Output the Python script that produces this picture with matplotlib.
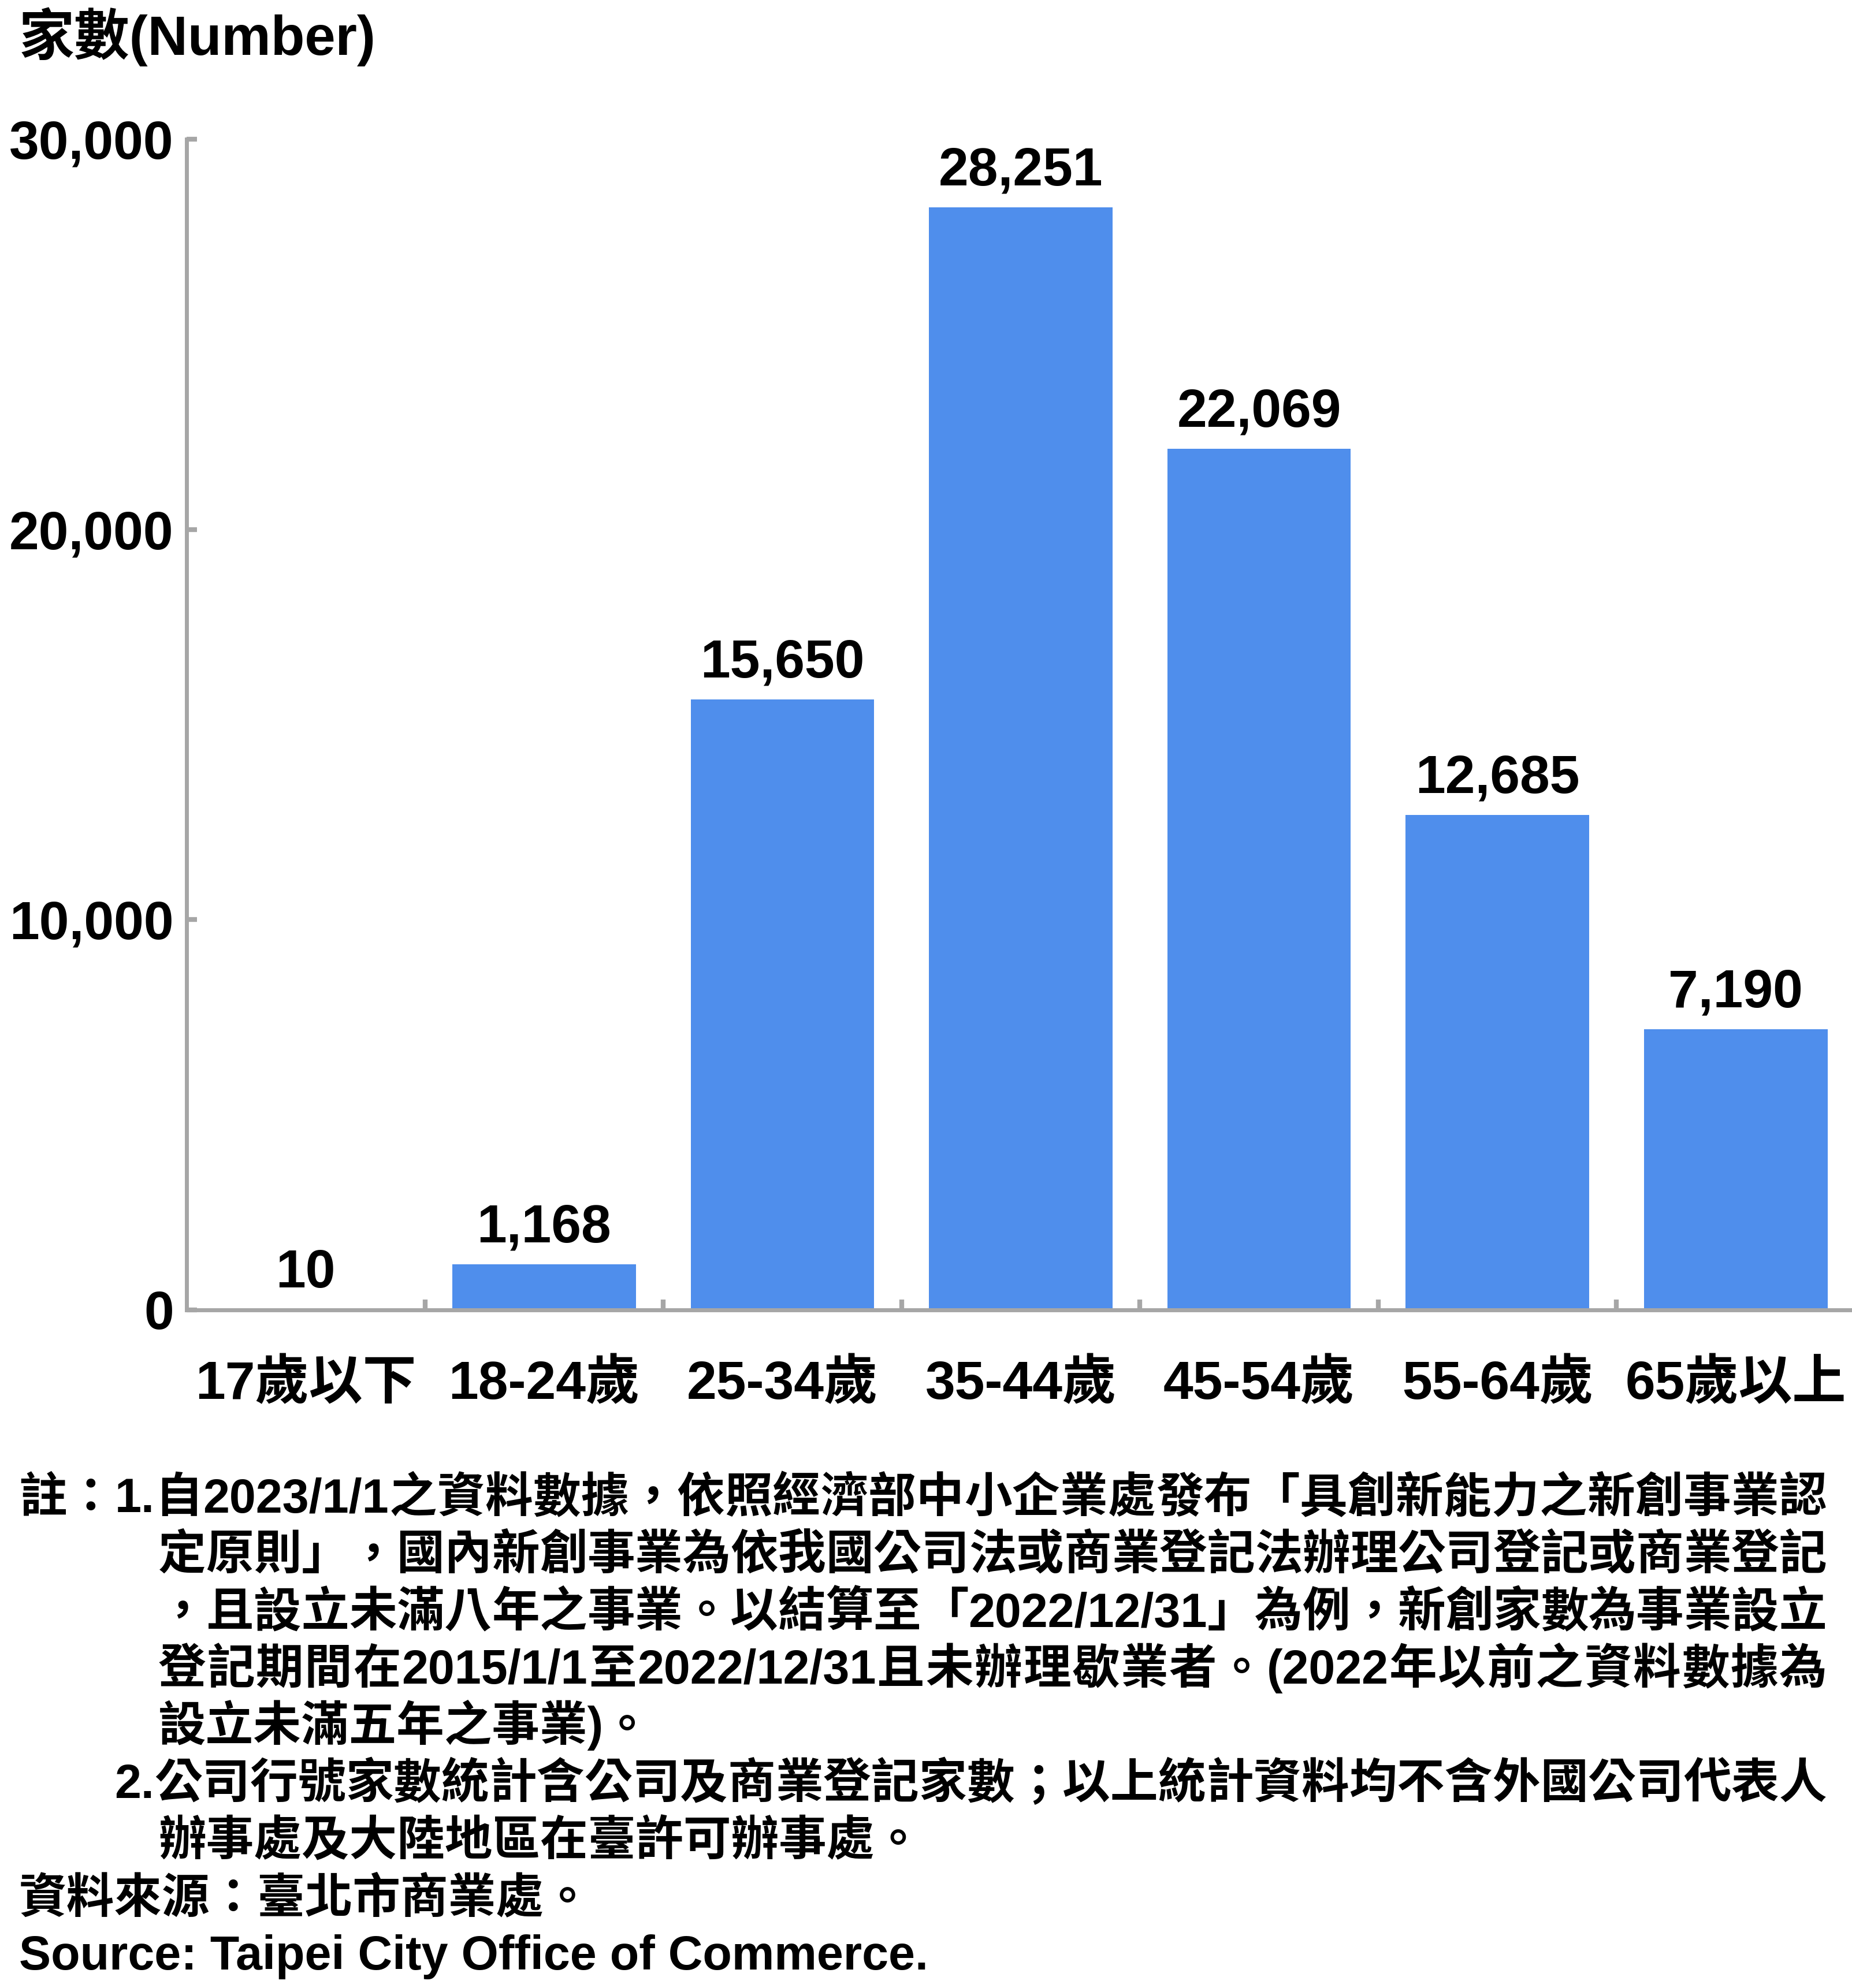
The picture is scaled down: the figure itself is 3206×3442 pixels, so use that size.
import re
import matplotlib
matplotlib.use("Agg")
import matplotlib.pyplot as plt
from matplotlib.ticker import FixedLocator

plt.rcParams['font.family'] = ['Liberation Sans', 'Noto Sans CJK TC']
plt.rcParams['font.weight'] = 'bold'

categories = ['17歲以下', '18-24歲', '25-34歲', '35-44歲', '45-54歲', '55-64歲', '65歲以上']
counts = [10, 1168, 15650, 28251, 22069, 12685, 7190]
yticks = [0, 10000, 20000, 30000]

title = '家數(Number)'
# (left x in px, text, justify to right edge)
notes = [
    (33, '註：1.自2023/1/1之資料數據，依照經濟部中小企業處發布「具創新能力之新創事業認', True),
    (274, '定原則」，國內新創事業為依我國公司法或商業登記法辦理公司登記或商業登記', True),
    (274, '，且設立未滿八年之事業。以結算至「2022/12/31」為例，新創家數為事業設立', True),
    (274, '登記期間在2015/1/1至2022/12/31且未辦理歇業者。(2022年以前之資料數據為', True),
    (274, '設立未滿五年之事業)。', False),
    (198, '2.公司行號家數統計含公司及商業登記家數；以上統計資料均不含外國公司代表人', True),
    (274, '辦事處及大陸地區在臺許可辦事處。', False),
    (33, '資料來源：臺北市商業處。', False),
    (33, 'Source: Taipei City Office of Commerce.', False),
]

W, H = 3206, 3442
bar_color = '#4F8EEC'
axis_color = '#A6A6A6'
note_right = 3162

fig = plt.figure(figsize=(W / 100, H / 100), dpi=100)
ax = fig.add_axes([323 / W, 1 - 2268 / H, (3211 - 323) / W, (2268 - 241) / H])

x = list(range(len(categories)))
bars = ax.bar(x, counts, width=0.77, color=bar_color)
ax.bar_label(bars, labels=[f'{v:,}' for v in counts], padding=14,
             fontsize=67, fontweight='bold')

ax.set_xlim(-0.5, len(categories) - 0.5)
ax.set_ylim(0, 30000)

for s in ['top', 'right']:
    ax.spines[s].set_visible(False)
for s in ['left', 'bottom']:
    ax.spines[s].set_color(axis_color)
    ax.spines[s].set_linewidth(5)

ax.set_yticks(yticks)
ax.set_yticklabels([f'{v:,}' for v in yticks])
ax.tick_params(axis='y', direction='in', length=13, width=6, color=axis_color,
               pad=16, labelsize=67)

ax.set_xticks(x)
ax.set_xticklabels(categories)
ax.tick_params(axis='x', which='major', length=0, pad=61, labelsize=67)
ax.xaxis.set_minor_locator(FixedLocator([i + 0.5 for i in x]))
ax.tick_params(axis='x', which='minor', direction='in', length=13, width=6,
               color=axis_color)

fig.text(33 / W, 1 - 95 / H, title, fontsize=69, fontweight='bold', va='baseline')

renderer = fig.canvas.get_renderer()
for i, (px, line, justify) in enumerate(notes):
    yb = 1 - (2585 + i * 99 + 33) / H
    if not justify:
        fig.text(px / W, yb, line, fontsize=59.5, fontweight='bold', va='baseline')
        continue
    # latin runs stay together, every other character is its own token
    tokens = re.findall(r'[A-Za-z0-9/.()]+|.', line)
    arts = [fig.text(0, yb, t, fontsize=59.5, fontweight='bold', va='baseline')
            for t in tokens]
    widths = [a.get_window_extent(renderer).width for a in arts]
    gap = (note_right - px - sum(widths)) / (len(tokens) - 1)
    cx = px
    for a, w in zip(arts, widths):
        a.set_x(cx / W)
        cx += w + gap

fig.savefig('out.png', dpi=100)
